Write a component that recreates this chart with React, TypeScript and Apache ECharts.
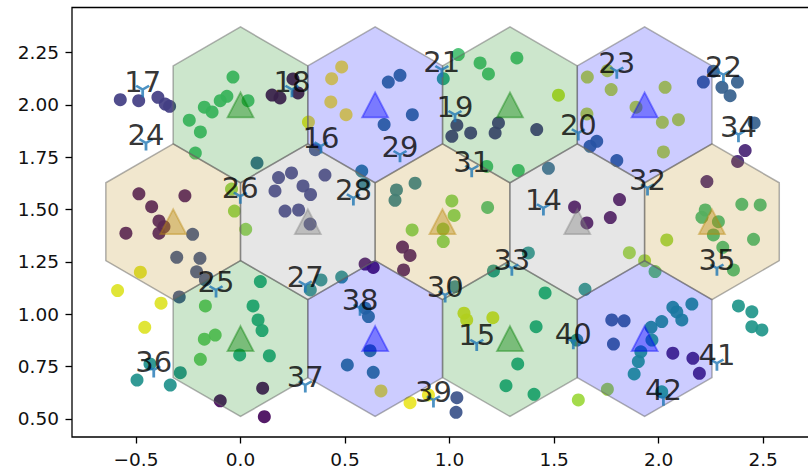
import React, { useEffect, useRef } from "react";
import * as echarts from "echarts";

// Scatter samples: [x, y, colour value 0..1 (viridis)]
const pointsTopLeft: number[][] = [
  [-0.575, 2.025, 0.18], [-0.487, 2.02, 0.18], [-0.395, 2.036, 0.18], [-0.36, 2.004, 0.18], [-0.339, 1.993, 0.18],
  [-0.036, 2.133, 0.7], [0.036, 2.02, 0.7], [-0.065, 2.041, 0.7], [-0.097, 2.02, 0.7], [-0.173, 1.989, 0.7],
  [-0.136, 1.966, 0.7], [-0.245, 1.927, 0.7], [-0.192, 1.871, 0.7], [-0.216, 1.77, 0.7], [0.079, 1.723, 0.33],
  [0.151, 2.047, 0.02], [0.189, 2.033, 0.02], [0.251, 2.124, 0.02], [0.275, 2.057, 0.02], [0.325, 1.918, 0.97],
];
const pointsMidLeft: number[][] = [
  [0.182, 1.653, 0.2], [0.244, 1.675, 0.2], [0.165, 1.589, 0.2], [0.299, 1.613, 0.2], [0.335, 1.572, 0.2],
  [0.213, 1.493, 0.2], [0.278, 1.498, 0.2], [0.333, 1.431, 0.2], [0.404, 1.665, 0.2], [0.358, 1.786, 0.25],
  [-0.043, 1.598, 0.82], [-0.029, 1.493, 0.82], [0.025, 1.406, 0.82],
  [-0.486, 1.575, 0.05], [-0.266, 1.566, 0.05], [-0.425, 1.514, 0.05], [-0.39, 1.446, 0.05], [-0.366, 1.418, 0.05],
  [-0.39, 1.387, 0.05], [-0.548, 1.387, 0.05],
  [-0.229, 1.382, 0.25], [-0.305, 1.272, 0.25], [-0.194, 1.267, 0.25], [-0.21, 1.203, 0.25], [-0.168, 1.164, 0.25],
  [-0.293, 1.083, 0.25],
  [-0.479, 1.201, 0.95], [-0.588, 1.113, 0.95], [-0.38, 1.053, 0.95], [-0.458, 0.938, 0.95],
];
const pointsTopMid: number[][] = [
  [0.484, 2.181, 1.0], [0.436, 2.125, 1.0], [0.432, 2.014, 1.0], [0.505, 1.953, 1.0],
  [0.707, 2.109, 0.35], [0.763, 2.141, 0.35], [0.822, 1.953, 0.35], [0.687, 1.906, 0.35],
  [0.58, 1.684, 0.42], [0.591, 1.622, 0.42],
  [1.042, 2.24, 0.7], [1.146, 2.2, 0.7], [1.186, 2.148, 0.7], [1.322, 2.224, 0.7], [0.97, 2.125, 0.58], [1.521, 2.046, 0.9],
  [1.035, 1.903, 0.16], [1.011, 1.85, 0.16], [1.101, 1.866, 0.16], [1.234, 1.914, 0.16], [1.218, 1.866, 0.16],
  [1.417, 1.882, 0.16], [1.178, 1.706, 0.7], [1.329, 1.687, 0.7], [1.473, 1.697, 0.35],
];
const pointsMidCentre: number[][] = [
  [0.835, 1.626, 0.42], [0.746, 1.594, 0.42], [0.739, 1.544, 0.42],
  [1.011, 1.541, 0.8], [1.022, 1.472, 0.8], [0.821, 1.403, 0.8], [0.969, 1.407, 0.8], [0.97, 1.347, 0.8], [1.182, 1.51, 0.7],
  [0.775, 1.321, 0.06], [0.811, 1.281, 0.06], [0.78, 1.212, 0.06], [0.596, 1.24, 0.04], [0.635, 1.224, 0.04],
  [0.484, 1.178, 0.48], [0.385, 1.164, 0.48], [0.334, 1.116, 0.48], [1.026, 1.132, 0.45], [1.21, 1.207, 0.52],
  [1.377, 1.293, 0.52], [1.457, 1.102, 0.6],
];
const pointsRight: number[][] = [
  [1.659, 2.133, 0.9], [1.755, 2.163, 0.9], [1.773, 2.073, 0.9], [1.892, 1.989, 0.9], [2.031, 2.084, 0.9],
  [2.018, 1.917, 0.9], [2.095, 1.929, 0.9], [2.023, 1.775, 0.9], [1.657, 1.957, 0.9],
  [1.704, 1.826, 0.33], [1.672, 1.802, 0.33], [1.8, 1.734, 0.33],
  [2.214, 2.109, 0.3], [2.262, 2.161, 0.3], [2.303, 2.084, 0.3], [2.377, 2.109, 0.3], [2.342, 2.044, 0.3], [2.457, 1.914, 0.3],
  [2.414, 1.782, 0.1], [2.378, 1.73, 0.1], [2.231, 1.634, 0.1],
  [1.598, 1.512, 0.03], [1.657, 1.436, 0.03], [1.813, 1.548, 0.03], [1.769, 1.462, 0.03],
  [1.86, 1.294, 0.85], [1.933, 1.256, 0.85], [1.983, 1.204, 0.75], [1.648, 1.119, 0.5],
  [2.223, 1.498, 0.68], [2.207, 1.463, 0.68], [2.286, 1.442, 0.68], [2.262, 1.379, 0.68], [2.398, 1.525, 0.68],
  [2.486, 1.522, 0.68], [2.454, 1.358, 0.68], [2.307, 1.32, 0.68], [2.358, 1.212, 0.68], [2.039, 1.355, 0.85],
];
const pointsBottomRight: number[][] = [
  [1.776, 0.973, 0.3], [1.835, 0.969, 0.3], [1.784, 0.858, 0.3],
  [2.068, 1.033, 0.52], [2.159, 1.049, 0.52], [2.111, 0.973, 0.52], [2.087, 1.011, 0.52], [2.015, 0.965, 0.52], [1.964, 0.938, 0.52],
  [1.968, 0.877, 0.58], [1.915, 0.821, 0.58], [1.903, 0.774, 0.58], [1.883, 0.715, 0.58],
  [2.068, 0.814, 0.1], [2.164, 0.79, 0.1], [2.195, 0.718, 0.1],
  [2.382, 1.04, 0.52], [2.446, 1.012, 0.52], [2.446, 0.941, 0.52], [2.494, 0.925, 0.52],
  [1.755, 0.642, 0.85], [1.616, 0.591, 0.85], [2.015, 0.63, 0.6], [1.609, 0.877, 0.45],
];
const pointsBottomLeft: number[][] = [
  [-0.168, 1.04, 0.75], [-0.173, 0.881, 0.75], [-0.121, 0.901, 0.75], [-0.192, 0.785, 0.75],
  [0.095, 1.156, 0.6], [0.06, 1.04, 0.6], [0.084, 0.973, 0.6], [0.103, 0.922, 0.6], [-0.004, 0.806, 0.6], [0.138, 0.802, 0.6],
  [-0.288, 0.721, 0.5], [-0.495, 0.686, 0.5], [-0.336, 0.662, 0.5], [-0.433, 0.763, 0.5],
  [0.106, 0.647, 0.02], [-0.097, 0.587, 0.02], [0.114, 0.511, 0.02],
  [0.612, 0.989, 0.4], [0.596, 1.029, 0.4], [0.62, 0.826, 0.4], [0.511, 0.758, 0.4], [0.635, 0.723, 0.4], [0.672, 0.634, 0.97],
  [0.811, 0.578, 0.97], [0.899, 0.615, 0.97], [1.035, 0.602, 0.25], [1.031, 0.532, 0.25],
  [1.069, 1.005, 0.95], [1.082, 0.973, 0.95], [1.207, 0.984, 0.95], [1.414, 0.941, 0.6], [1.326, 0.763, 0.6],
  [1.27, 0.659, 0.6], [1.404, 0.618, 0.6],
];

// Labelled samples
const labelIds = [14, 15, 16, 17, 18, 19, 20, 21, 22, 23, 24, 25, 26, 27, 28, 29, 30, 31, 32, 33, 34, 35, 36, 37, 38, 39, 40, 41, 42];
const labelX = [1.449, 1.13, 0.385, -0.468, 0.246, 1.026, 1.616, 0.963, 2.31, 1.8, -0.452, -0.117, -0.001, 0.31, 0.54, 0.763, 0.979, 1.106, 1.947, 1.298, 2.382, 2.279, -0.415, 0.31, 0.572, 0.923, 1.592, 2.279, 2.023];
const labelY = [1.508, 0.861, 1.804, 2.073, 2.073, 1.953, 1.866, 2.168, 2.144, 2.161, 1.818, 1.116, 1.564, 1.14, 1.555, 1.762, 1.092, 1.691, 1.603, 1.22, 1.858, 1.22, 0.734, 0.662, 1.029, 0.591, 0.869, 0.766, 0.599];

// Hexagonal map cells
const hexX = [0, 0.644, 1.289, 1.933, -0.322, 0.322, 0.966, 1.611, 2.255, 0, 0.644, 1.289, 1.933];
const hexY = [2.0, 2.0, 2.0, 2.0, 1.442, 1.442, 1.442, 1.442, 1.442, 0.884, 0.884, 0.884, 0.884];
const hexKind = [0, 1, 0, 1, 2, 3, 2, 3, 2, 0, 1, 0, 1];
const hexRadius = 0.372;

const xTicks = [-0.5, 0, 0.5, 1, 1.5, 2, 2.5];
const yTicks = [0.5, 0.75, 1, 1.25, 1.5, 1.75, 2, 2.25];

const kindRgb = ["0,128,0", "0,0,255", "184,134,11", "128,128,128"];
const viridis = ["#440154", "#482475", "#414487", "#355f8d", "#2a788e", "#21918c", "#22a884", "#44bf70", "#7ad151", "#bddf26", "#fde725"];

export default function App() {
  const ref = useRef<HTMLDivElement>(null);
  useEffect(() => {
    document.body.style.margin = "0";
    if (!ref.current) return;
    const chart = echarts.init(ref.current, null, { renderer: "svg" });
    const points = [
      ...pointsTopLeft, ...pointsMidLeft, ...pointsTopMid, ...pointsMidCentre,
      ...pointsRight, ...pointsBottomRight, ...pointsBottomLeft,
    ];
    const font = "DejaVu Sans";
    const option: any = {
      animation: false,
      grid: {
        left: 72, top: 7.5, right: -12, bottom: 38,
        show: true, borderColor: "#000", borderWidth: 1.3, backgroundColor: "transparent",
        outerBoundsMode: "none",
      },
      visualMap: {
        show: false, type: "continuous", min: 0, max: 1, dimension: 2, seriesIndex: 0,
        inRange: { color: viridis },
      },
      xAxis: {
        type: "value", min: -0.806, max: 2.772,
        axisLine: { show: false, onZero: false },
        splitLine: { show: false },
        axisTick: { show: true, customValues: xTicks, length: 6.5, lineStyle: { color: "#000", width: 1.3 } },
        axisLabel: {
          customValues: xTicks, margin: 13, color: "#111", fontFamily: font, fontSize: 18.5,
          formatter: (v: number) => (v < 0 ? "\u2212" : "") + Math.abs(v).toFixed(1),
        },
      },
      yAxis: {
        type: "value", min: 0.414, max: 2.465,
        axisLine: { show: false, onZero: false },
        splitLine: { show: false },
        axisTick: { show: true, customValues: yTicks, length: 6.5, lineStyle: { color: "#000", width: 1.3 } },
        axisLabel: {
          customValues: yTicks, margin: 13, color: "#111", fontFamily: font, fontSize: 18.5,
          formatter: (v: number) => v.toFixed(2),
        },
      },
      series: [
        {
          type: "scatter", z: 1, symbol: "circle", symbolSize: 13,
          itemStyle: { opacity: 0.92 },
          data: points,
        },
        {
          type: "custom", z: 2,
          data: hexX.map((x, i) => [x, hexY[i], hexKind[i]]),
          renderItem: (params: any, api: any) => {
            const c = api.coord([api.value(0), api.value(1)]);
            const s = api.size([1, 1]);
            const pts: number[][] = [];
            for (let k = 0; k < 6; k++) {
              const a = Math.PI / 2 + (k * Math.PI) / 3;
              pts.push([c[0] + hexRadius * Math.cos(a) * s[0], c[1] - hexRadius * Math.sin(a) * s[1]]);
            }
            const kind = api.value(2);
            return {
              type: "polygon",
              shape: { points: pts },
              style: { fill: `rgba(${kindRgb[kind]},0.2)`, stroke: "rgba(100,100,100,0.5)", lineWidth: 1.5 },
            };
          },
        },
        {
          type: "scatter", z: 3, symbol: "triangle", symbolSize: [26, 25],
          data: hexX.map((x, i) => ({
            value: [x, hexY[i]],
            itemStyle: {
              color: `rgba(${kindRgb[hexKind[i]]},0.5)`,
              borderColor: `rgba(${kindRgb[hexKind[i]]},0.5)`,
              borderWidth: 1.8,
            },
          })),
        },
        {
          type: "scatter", z: 4,
          symbol: "path://M0,0 L0,10 M0,0 L-8.66,-5 M0,0 L8.66,-5",
          symbolSize: [13, 11.3], symbolOffset: [0, 1.9],
          itemStyle: { color: "#1f77b4", borderColor: "#1f77b4", borderWidth: 2.6 },
          data: labelX.map((x, i) => [x, labelY[i]]),
        },
        {
          type: "scatter", z: 5, symbol: "circle", symbolSize: 2,
          itemStyle: { color: "transparent" },
          label: {
            show: true, position: "inside", offset: [0, -8],
            color: "#000", fontFamily: font, fontSize: 29,
            formatter: (p: any) => String(labelIds[p.dataIndex]),
          },
          data: labelX.map((x, i) => [x, labelY[i]]),
        },
      ],
    };
    chart.setOption(option);
    return () => chart.dispose();
  }, []);
  return <div ref={ref} style={{ width: 808, height: 475 }} />;
}
